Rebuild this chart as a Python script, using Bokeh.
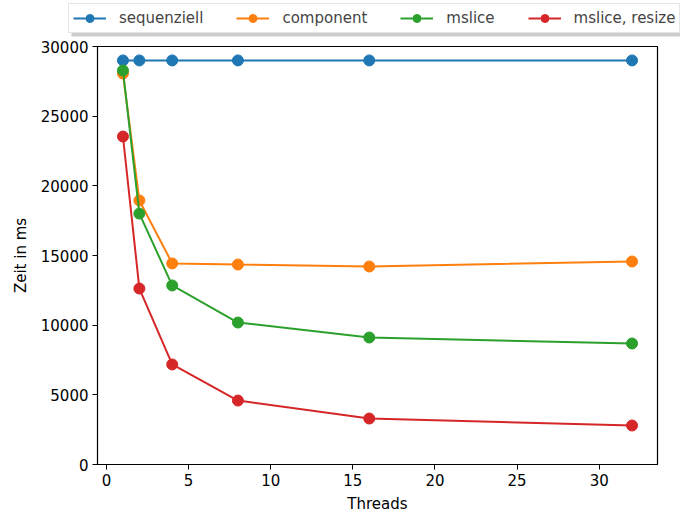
from bokeh.plotting import figure
from bokeh.layouts import column, row
from bokeh.models import Legend, LegendItem, Range1d, FixedTicker, NumeralTickFormatter, BoxAnnotation
from bokeh.embed import file_html
from bokeh.resources import INLINE

threads = [1, 2, 4, 8, 16, 32]
sequenziell = [29000, 29000, 29000, 29000, 29000, 29000]
component = [28060, 18950, 14430, 14350, 14210, 14570]
mslice = [28280, 18010, 12850, 10190, 9115, 8685]
mslice_resize = [23540, 12630, 7180, 4590, 3300, 2800]

series = [
    ("sequenziell", sequenziell, "#1f77b4"),
    ("component", component, "#ff7f0e"),
    ("mslice", mslice, "#2ca02c"),
    ("mslice, resize", mslice_resize, "#d62728"),
]

FONT = "DejaVu Sans"
FS = "15px"

# main plot
p = figure(width=680, height=475, output_backend="svg", toolbar_location=None,
           x_range=Range1d(-0.55, 33.55), y_range=Range1d(0, 30000),
           min_border_left=97, min_border_right=23, min_border_top=6, min_border_bottom=51)
p.grid.visible = False
p.outline_line_color = "black"
p.outline_line_width = 1.2

# legend strip above (same series, drawn out of view; only its legend is shown)
lg = figure(width=680, height=40, output_backend="svg", toolbar_location=None,
            x_range=Range1d(100, 200), y_range=Range1d(100000, 200000),
            min_border=0, x_axis_type=None, y_axis_type=None)
lg.grid.visible = False
lg.outline_line_color = None

items = []
for name, ys, col in series:
    p.line(threads, ys, line_color=col, line_width=2)
    p.scatter(threads, ys, size=11, fill_color=col, line_color=col)
    l2 = lg.line(threads, ys, line_color=col, line_width=2)
    s2 = lg.scatter(threads, ys, size=11, fill_color=col, line_color=col)
    items.append(LegendItem(label=name, renderers=[l2, s2]))

shadow = BoxAnnotation(left=71, right=720, top=32, bottom=4,
                       left_units="screen", right_units="screen",
                       top_units="screen", bottom_units="screen",
                       fill_color="#999999", fill_alpha=0.5, line_color=None)
lg.add_layout(shadow)

legend = Legend(items=items, orientation="horizontal", location=(68, 7),
                label_text_font=FONT, label_text_font_size="15px",
                glyph_width=33, glyph_height=20, label_standoff=13, spacing=33,
                padding=4, margin=0,
                border_line_color="#cccccc", border_line_width=1,
                background_fill_color="white", background_fill_alpha=1.0)
lg.add_layout(legend, "center")

for ax in (p.xaxis, p.yaxis):
    ax.axis_line_color = "black"
    ax.major_tick_line_color = "black"
    ax.major_tick_out = 5
    ax.major_tick_in = 0
    ax.minor_tick_line_color = None
    ax.major_label_text_font = FONT
    ax.major_label_text_font_size = FS
    ax.major_label_text_color = "black"
    ax.major_label_standoff = 4
    ax.axis_label_text_font = FONT
    ax.axis_label_text_font_size = FS
    ax.axis_label_text_font_style = "normal"
    ax.axis_label_text_color = "black"

p.xaxis.ticker = FixedTicker(ticks=[0, 5, 10, 15, 20, 25, 30])
p.yaxis.ticker = FixedTicker(ticks=[0, 5000, 10000, 15000, 20000, 25000, 30000])
p.yaxis.formatter = NumeralTickFormatter(format="0")
p.xaxis.axis_label = "Threads"
p.yaxis.axis_label = "Zeit in ms"
p.xaxis.axis_label_standoff = 6
p.yaxis.axis_label_standoff = 8

layout = column(row(lg), p, spacing=0)
open("out.html", "w").write(file_html(layout, INLINE))
